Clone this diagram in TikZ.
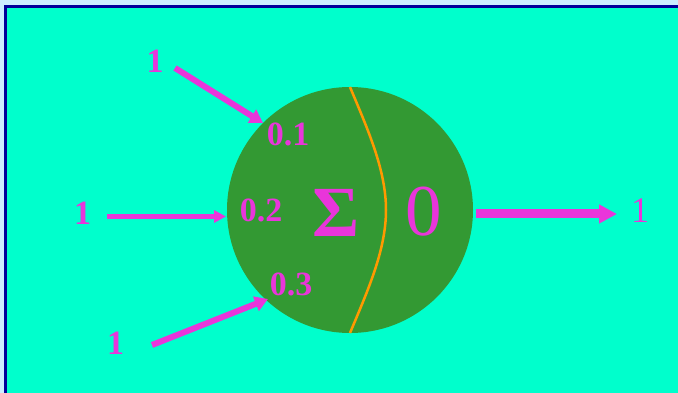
\documentclass[tikz,border=0pt]{standalone}
\usepackage{fontspec}
\setmainfont{Liberation Serif}
\usetikzlibrary{arrows.meta}
\definecolor{outerblue}{HTML}{CCEEFF}
\definecolor{frameblue}{HTML}{000099}
\definecolor{aqua}{HTML}{00FFCC}
\definecolor{cellgreen}{HTML}{339933}
\definecolor{mag}{HTML}{E935DA}
\definecolor{curveorange}{HTML}{FF9900}
\tikzset{
  lbl/.style={text=mag, inner sep=0pt, font=\fontsize{34}{38}\selectfont\bfseries},
  lblr/.style={text=mag, inner sep=0pt, font=\fontsize{36}{40}\selectfont},
  inarrow/.style={draw=mag, line width=6pt, -{Triangle[length=13pt,width=15pt]}},
}
\begin{document}
\begin{tikzpicture}[x=1pt,y=-1pt]
\useasboundingbox (0,0) rectangle (678,393);
\fill[outerblue] (0,0) rectangle (678,393);
\fill[frameblue] (4,5) rectangle (678,393);
\fill[aqua] (7,8) rectangle (678,393);
% neuron
\fill[cellgreen] (350,210) circle[radius=123];
\draw[curveorange, line width=2.5pt] (350,87) .. controls (368,130) and (386,170) .. (386,210)
  .. controls (386,250) and (368,290) .. (350,333);
\node[lbl, font=\fontsize{72}{80}\selectfont\bfseries] (sigma) at (336,213) {Σ};
\node[lblr, font=\fontsize{73}{80}\selectfont] (out0) at (424,212) {0};
% weights
\node[lbl] (w1) at (288,134.5) {0.1};
\node[lbl] (w2) at (261,210) {0.2};
\node[lbl] (w3) at (291,284) {0.3};
% inputs
\node[lbl] (x1) at (155,61.5) {1};
\node[lbl] (x2) at (82.5,213.5) {1};
\node[lbl] (x3) at (115.5,343.5) {1};
\node[lblr] (y) at (640,211) {1};
% arrow ends
\coordinate (a1s) at (175,68);
\coordinate (a1e) at (263,123);
\coordinate (a2s) at (107,216.5);
\coordinate (a2e) at (226,216.5);
\coordinate (a3s) at (152,345);
\coordinate (a3e) at (268,299);
\coordinate (a4s) at (476,214);
\coordinate (a4e) at (617,214);
\draw[inarrow] (a1s) -- (a1e);
\draw[inarrow, line width=4.5pt, -{Triangle[length=12pt,width=12pt]}] (a2s) -- (a2e);
\draw[inarrow] (a3s) -- (a3e);
\draw[inarrow, line width=9pt, -{Triangle[length=18pt,width=18pt]}] (a4s) -- (a4e);
\end{tikzpicture}
\end{document}
